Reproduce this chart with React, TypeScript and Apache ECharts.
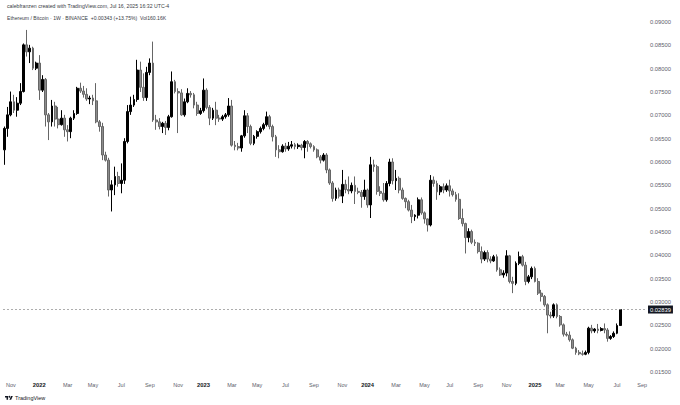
import React, { useEffect, useRef } from "react";
import * as echarts from "echarts";

// ---- data ----
const START_DATE_UTC = Date.UTC(2021, 9, 18); // first weekly bar (Mon 18 Oct 2021)
const WEEK_COUNT = 204; // bars + empty future weeks on the time scale
const MONTHS = ["Jan", "Feb", "Mar", "Apr", "May", "Jun", "Jul", "Aug", "Sep", "Oct", "Nov", "Dec"];

const opens = [
  0.0626, 0.0672, 0.0701, 0.0729, 0.0711, 0.0726, 0.0751, 0.0851, 0.0836, 0.0844,
  0.0801, 0.0812, 0.0754, 0.0777, 0.0701, 0.0686, 0.0720, 0.0692, 0.0680, 0.0694,
  0.0669, 0.0665, 0.0694, 0.0704, 0.0758, 0.0752, 0.0745, 0.0735, 0.0737, 0.0731,
  0.0686, 0.0676, 0.0615, 0.0604, 0.0540, 0.0551, 0.0569, 0.0554, 0.0561, 0.0644,
  0.0708, 0.0722, 0.0734, 0.0797, 0.0760, 0.0738, 0.0792, 0.0812, 0.0690, 0.0686,
  0.0676, 0.0683, 0.0674, 0.0697, 0.0772, 0.0751, 0.0748, 0.0701, 0.0729, 0.0747,
  0.0744, 0.0722, 0.0704, 0.0710, 0.0754, 0.0717, 0.0694, 0.0711, 0.0694, 0.0692,
  0.0697, 0.0701, 0.0720, 0.0636, 0.0633, 0.0630, 0.0656, 0.0699, 0.0676, 0.0640,
  0.0655, 0.0665, 0.0672, 0.0680, 0.0697, 0.0676, 0.0654, 0.0626, 0.0622, 0.0634,
  0.0628, 0.0634, 0.0637, 0.0633, 0.0636, 0.0631, 0.0644, 0.0639, 0.0633, 0.0626,
  0.0611, 0.0604, 0.0615, 0.0583, 0.0555, 0.0522, 0.0540, 0.0527, 0.0552, 0.0541,
  0.0538, 0.0550, 0.0537, 0.0535, 0.0526, 0.0540, 0.0508, 0.0594, 0.0590, 0.0537,
  0.0533, 0.0519, 0.0554, 0.0600, 0.0560, 0.0565, 0.0540, 0.0522, 0.0515, 0.0497,
  0.0483, 0.0486, 0.0519, 0.0491, 0.0478, 0.0465, 0.0561, 0.0554, 0.0536, 0.0547,
  0.0540, 0.0549, 0.0538, 0.0530, 0.0520, 0.0479, 0.0468, 0.0438, 0.0451, 0.0428,
  0.0426, 0.0408, 0.0392, 0.0406, 0.0392, 0.0388, 0.0397, 0.0369, 0.0358, 0.0362,
  0.0399, 0.0344, 0.0340, 0.0383, 0.0397, 0.0379, 0.0344, 0.0354, 0.0372, 0.0344,
  0.0319, 0.0312, 0.0294, 0.0272, 0.0270, 0.0294, 0.0269, 0.0251, 0.0231, 0.0229,
  0.0219, 0.0201, 0.0192, 0.0189, 0.0188, 0.0192, 0.0244, 0.0238, 0.0242, 0.0239,
  0.0243, 0.0240, 0.0222, 0.0226, 0.0233, 0.02496,
];
const closes = [
  0.0672, 0.0701, 0.0729, 0.0711, 0.0726, 0.0751, 0.0851, 0.0836, 0.0844, 0.0801,
  0.0812, 0.0754, 0.0777, 0.0701, 0.0686, 0.0720, 0.0692, 0.0680, 0.0694, 0.0669,
  0.0665, 0.0694, 0.0704, 0.0758, 0.0752, 0.0745, 0.0735, 0.0737, 0.0731, 0.0686,
  0.0676, 0.0615, 0.0604, 0.0540, 0.0551, 0.0569, 0.0554, 0.0561, 0.0644, 0.0708,
  0.0722, 0.0734, 0.0797, 0.0760, 0.0738, 0.0792, 0.0812, 0.0690, 0.0686, 0.0676,
  0.0683, 0.0674, 0.0697, 0.0772, 0.0751, 0.0748, 0.0701, 0.0729, 0.0747, 0.0744,
  0.0722, 0.0704, 0.0710, 0.0754, 0.0717, 0.0694, 0.0711, 0.0694, 0.0692, 0.0697,
  0.0701, 0.0720, 0.0636, 0.0633, 0.0630, 0.0656, 0.0699, 0.0676, 0.0640, 0.0655,
  0.0665, 0.0672, 0.0680, 0.0697, 0.0676, 0.0654, 0.0626, 0.0622, 0.0634, 0.0628,
  0.0634, 0.0637, 0.0633, 0.0636, 0.0631, 0.0644, 0.0639, 0.0633, 0.0626, 0.0611,
  0.0604, 0.0615, 0.0583, 0.0555, 0.0522, 0.0540, 0.0527, 0.0552, 0.0541, 0.0538,
  0.0550, 0.0537, 0.0535, 0.0526, 0.0540, 0.0508, 0.0594, 0.0590, 0.0537, 0.0533,
  0.0519, 0.0554, 0.0600, 0.0560, 0.0565, 0.0540, 0.0522, 0.0515, 0.0497, 0.0483,
  0.0486, 0.0519, 0.0491, 0.0478, 0.0465, 0.0561, 0.0554, 0.0536, 0.0547, 0.0540,
  0.0549, 0.0538, 0.0530, 0.0520, 0.0479, 0.0468, 0.0438, 0.0451, 0.0428, 0.0426,
  0.0408, 0.0392, 0.0406, 0.0392, 0.0388, 0.0397, 0.0369, 0.0358, 0.0362, 0.0399,
  0.0344, 0.0340, 0.0383, 0.0397, 0.0379, 0.0344, 0.0354, 0.0372, 0.0344, 0.0319,
  0.0312, 0.0294, 0.0272, 0.0270, 0.0294, 0.0269, 0.0251, 0.0231, 0.0229, 0.0219,
  0.0201, 0.0192, 0.0189, 0.0188, 0.0192, 0.0244, 0.0238, 0.0242, 0.0239, 0.0243,
  0.0240, 0.0222, 0.0226, 0.0233, 0.02496, 0.02839,
];
const lows = [
  0.0594, 0.0654, 0.0698, 0.0705, 0.0697, 0.0722, 0.0749, 0.0826, 0.0812, 0.0797,
  0.0797, 0.0733, 0.0750, 0.0676, 0.0647, 0.0676, 0.0676, 0.0672, 0.0678, 0.0654,
  0.0644, 0.0651, 0.0690, 0.0701, 0.0748, 0.0738, 0.0731, 0.0724, 0.0722, 0.0683,
  0.0665, 0.0604, 0.0601, 0.0526, 0.0494, 0.0529, 0.0547, 0.0533, 0.0553, 0.0640,
  0.0701, 0.0718, 0.0729, 0.0750, 0.0731, 0.0731, 0.0786, 0.0686, 0.0669, 0.0670,
  0.0662, 0.0658, 0.0668, 0.0695, 0.0747, 0.0662, 0.0699, 0.0697, 0.0726, 0.0738,
  0.0715, 0.0699, 0.0701, 0.0706, 0.0713, 0.0679, 0.0690, 0.0679, 0.0686, 0.0688,
  0.0693, 0.0697, 0.0633, 0.0625, 0.0625, 0.0622, 0.0652, 0.0662, 0.0636, 0.0636,
  0.0650, 0.0661, 0.0668, 0.0676, 0.0670, 0.0644, 0.0611, 0.0608, 0.0620, 0.0622,
  0.0624, 0.0629, 0.0627, 0.0628, 0.0625, 0.0608, 0.0622, 0.0629, 0.0622, 0.0608,
  0.0597, 0.0601, 0.0576, 0.0551, 0.0515, 0.0517, 0.0522, 0.0512, 0.0533, 0.0531,
  0.0533, 0.0510, 0.0531, 0.0502, 0.0519, 0.0502, 0.0480, 0.0579, 0.0530, 0.0527,
  0.0515, 0.0515, 0.0548, 0.0552, 0.0540, 0.0533, 0.0519, 0.0501, 0.0494, 0.0469,
  0.0474, 0.0479, 0.0487, 0.0468, 0.0451, 0.0462, 0.0547, 0.0519, 0.0529, 0.0533,
  0.0536, 0.0526, 0.0526, 0.0515, 0.0476, 0.0462, 0.0404, 0.0428, 0.0424, 0.0420,
  0.0404, 0.0383, 0.0388, 0.0385, 0.0383, 0.0386, 0.0365, 0.0356, 0.0352, 0.0355,
  0.0340, 0.0319, 0.0336, 0.0379, 0.0376, 0.0336, 0.0340, 0.0349, 0.0342, 0.0315,
  0.0301, 0.0290, 0.0233, 0.0265, 0.0266, 0.0265, 0.0247, 0.0226, 0.0226, 0.0215,
  0.0199, 0.0187, 0.0186, 0.0185, 0.0186, 0.0188, 0.0233, 0.0234, 0.0233, 0.0237,
  0.0233, 0.0215, 0.0219, 0.0223, 0.0231, 0.0249,
];
const highs = [
  0.0676, 0.0718, 0.0751, 0.0744, 0.0739, 0.0769, 0.0854, 0.0883, 0.0851, 0.0847,
  0.0815, 0.0829, 0.0786, 0.0780, 0.0705, 0.0733, 0.0729, 0.0718, 0.0711, 0.0701,
  0.0679, 0.0697, 0.0711, 0.0761, 0.0770, 0.0763, 0.0758, 0.0742, 0.0744, 0.0769,
  0.0690, 0.0684, 0.0622, 0.0609, 0.0561, 0.0590, 0.0579, 0.0597, 0.0651, 0.0722,
  0.0740, 0.0744, 0.0819, 0.0815, 0.0790, 0.0804, 0.0822, 0.0858, 0.0701, 0.0694,
  0.0686, 0.0688, 0.0701, 0.0794, 0.0776, 0.0758, 0.0756, 0.0736, 0.0758, 0.0752,
  0.0748, 0.0729, 0.0716, 0.0779, 0.0758, 0.0722, 0.0716, 0.0729, 0.0701, 0.0701,
  0.0705, 0.0737, 0.0733, 0.0645, 0.0641, 0.0658, 0.0711, 0.0705, 0.0680, 0.0658,
  0.0668, 0.0676, 0.0684, 0.0708, 0.0701, 0.0680, 0.0658, 0.0636, 0.0638, 0.0641,
  0.0643, 0.0645, 0.0641, 0.0640, 0.0639, 0.0647, 0.0647, 0.0642, 0.0636, 0.0629,
  0.0615, 0.0619, 0.0619, 0.0586, 0.0559, 0.0545, 0.0545, 0.0583, 0.0562, 0.0569,
  0.0556, 0.0569, 0.0545, 0.0540, 0.0562, 0.0543, 0.0611, 0.0605, 0.0594, 0.0548,
  0.0555, 0.0559, 0.0607, 0.0608, 0.0583, 0.0569, 0.0545, 0.0524, 0.0519, 0.0508,
  0.0488, 0.0524, 0.0524, 0.0494, 0.0479, 0.0572, 0.0569, 0.0560, 0.0551, 0.0554,
  0.0554, 0.0562, 0.0543, 0.0536, 0.0533, 0.0500, 0.0470, 0.0458, 0.0455, 0.0434,
  0.0428, 0.0419, 0.0410, 0.0411, 0.0398, 0.0401, 0.0402, 0.0374, 0.0368, 0.0411,
  0.0401, 0.0354, 0.0387, 0.0408, 0.0401, 0.0386, 0.0358, 0.0376, 0.0376, 0.0351,
  0.0326, 0.0315, 0.0297, 0.0279, 0.0297, 0.0297, 0.0272, 0.0254, 0.0236, 0.0237,
  0.0222, 0.0204, 0.0197, 0.0196, 0.0196, 0.0247, 0.0251, 0.0244, 0.0253, 0.0246,
  0.0254, 0.0244, 0.0229, 0.0237, 0.0254, 0.0285,
];

const Y_MIN = 0.015;
const Y_MAX = 0.09;
const Y_STEP = 0.005;
const LAST_PRICE = 0.02839;
const LAST_PRICE_LABEL = "0.02839";

const HEADER_LINE_1 = "calebfranzen created with TradingView.com, Jul 16, 2025 16:32 UTC-4";
const HEADER_LINE_2 = "Ethereum / Bitcoin · 1W · BINANCE  +0.00343 (+13.75%)  Vol160.16K";
const BRAND = "TradingView";

const FONT = "'Liberation Sans', Arial, sans-serif";

const categories: string[] = [];
for (let k = 0; k < WEEK_COUNT; k++) {
  categories.push(new Date(START_DATE_UTC + k * 7 * 86400000).toISOString().slice(0, 10));
}

const candleData = opens.map((o, i) => [o, closes[i], lows[i], highs[i]]);

const TV_LOGO_PATH = "M14 22H7V11H0V4h14v18zM28 22h-8l7.5-18h8L28 22z";
let logoRegistered = false;

export default function App() {
  const ref = useRef<HTMLDivElement>(null);

  useEffect(() => {
    if (!ref.current) return;
    if (!logoRegistered) {
      echarts.graphic.registerShape("tvlogo", echarts.graphic.extendPath(TV_LOGO_PATH, {}) as any);
      logoRegistered = true;
    }
    const chart = echarts.init(ref.current, null, { renderer: "svg" });

    const parse = (v: string) => new Date(v + "T00:00:00Z");

    chart.setOption({
      animation: false,
      backgroundColor: "#ffffff",
      textStyle: { fontFamily: FONT },
      grid: { left: 3, right: 33, top: 22, bottom: 33, containLabel: false },
      xAxis: {
        type: "category",
        data: categories,
        boundaryGap: true,
        axisLine: { show: false },
        axisTick: { show: false },
        splitLine: { show: false },
        axisLabel: {
          interval: (_idx: number, val: string) => {
            const d = parse(val);
            return d.getUTCDate() <= 7 && d.getUTCMonth() % 2 === 0;
          },
          formatter: (val: string) => {
            const d = parse(val);
            const m = d.getUTCMonth();
            if (m === 0) return "{y|" + d.getUTCFullYear() + "}";
            return MONTHS[m];
          },
          color: "#5d606b",
          fontSize: 5.5,
          margin: 10,
          fontFamily: FONT,
          rich: {
            y: { fontWeight: "bold", fontSize: 5.8, color: "#131722", fontFamily: FONT },
          },
        },
      },
      yAxis: {
        type: "value",
        position: "right",
        min: Y_MIN,
        max: Y_MAX,
        interval: Y_STEP,
        scale: false,
        axisLine: { show: false },
        axisTick: { show: false },
        splitLine: { show: false },
        axisLabel: {
          formatter: (v: number) => v.toFixed(5),
          color: "#5d606b",
          fontSize: 5.8,
          margin: 3,
          fontFamily: FONT,
        },
      },
      series: [
        {
          type: "candlestick",
          data: candleData,
          barWidth: "74%",
          itemStyle: {
            color: "#000000",
            color0: "#8c8c8c",
            borderColor: "#000000",
            borderColor0: "#666666",
            borderWidth: 1,
          },
          markLine: {
            silent: true,
            symbol: "none",
            precision: 5,
            lineStyle: { type: [2, 2], color: "#8a8a8a", width: 0.7 },
            label: {
              show: true,
              position: "end",
              distance: 1,
              formatter: LAST_PRICE_LABEL,
              color: "#ffffff",
              backgroundColor: "#131722",
              fontSize: 5.8,
              padding: [1, 2, 1, 2],
              fontFamily: FONT,
            },
            data: [{ yAxis: LAST_PRICE }],
          },
        },
      ],
      graphic: [
        {
          type: "text",
          left: 7,
          top: 3,
          style: { text: HEADER_LINE_1, fontSize: 5.2, fill: "#3a3d45", fontFamily: FONT },
        },
        {
          type: "text",
          left: 7,
          top: 15,
          style: { text: HEADER_LINE_2, fontSize: 5.1, fill: "#3a3d45", fontFamily: FONT },
        },
        {
          type: "tvlogo",
          x: 5,
          y: 395,
          scaleX: 0.22,
          scaleY: 0.22,
          style: { fill: "#131722" },
        },
        {
          type: "circle",
          shape: { cx: 5 + 20 * 0.22, cy: 395 + 8 * 0.22, r: 0.9 },
          style: { fill: "#131722" },
        },
        {
          type: "text",
          left: 15,
          top: 395,
          style: { text: BRAND, fontSize: 5.5, fill: "#131722", fontFamily: FONT },
        },
      ],
    });

    return () => chart.dispose();
  }, []);

  return (
    <div
      ref={ref}
      style={{ position: "fixed", left: 0, top: 0, width: 680, height: 405, background: "#fff" }}
    />
  );
}
